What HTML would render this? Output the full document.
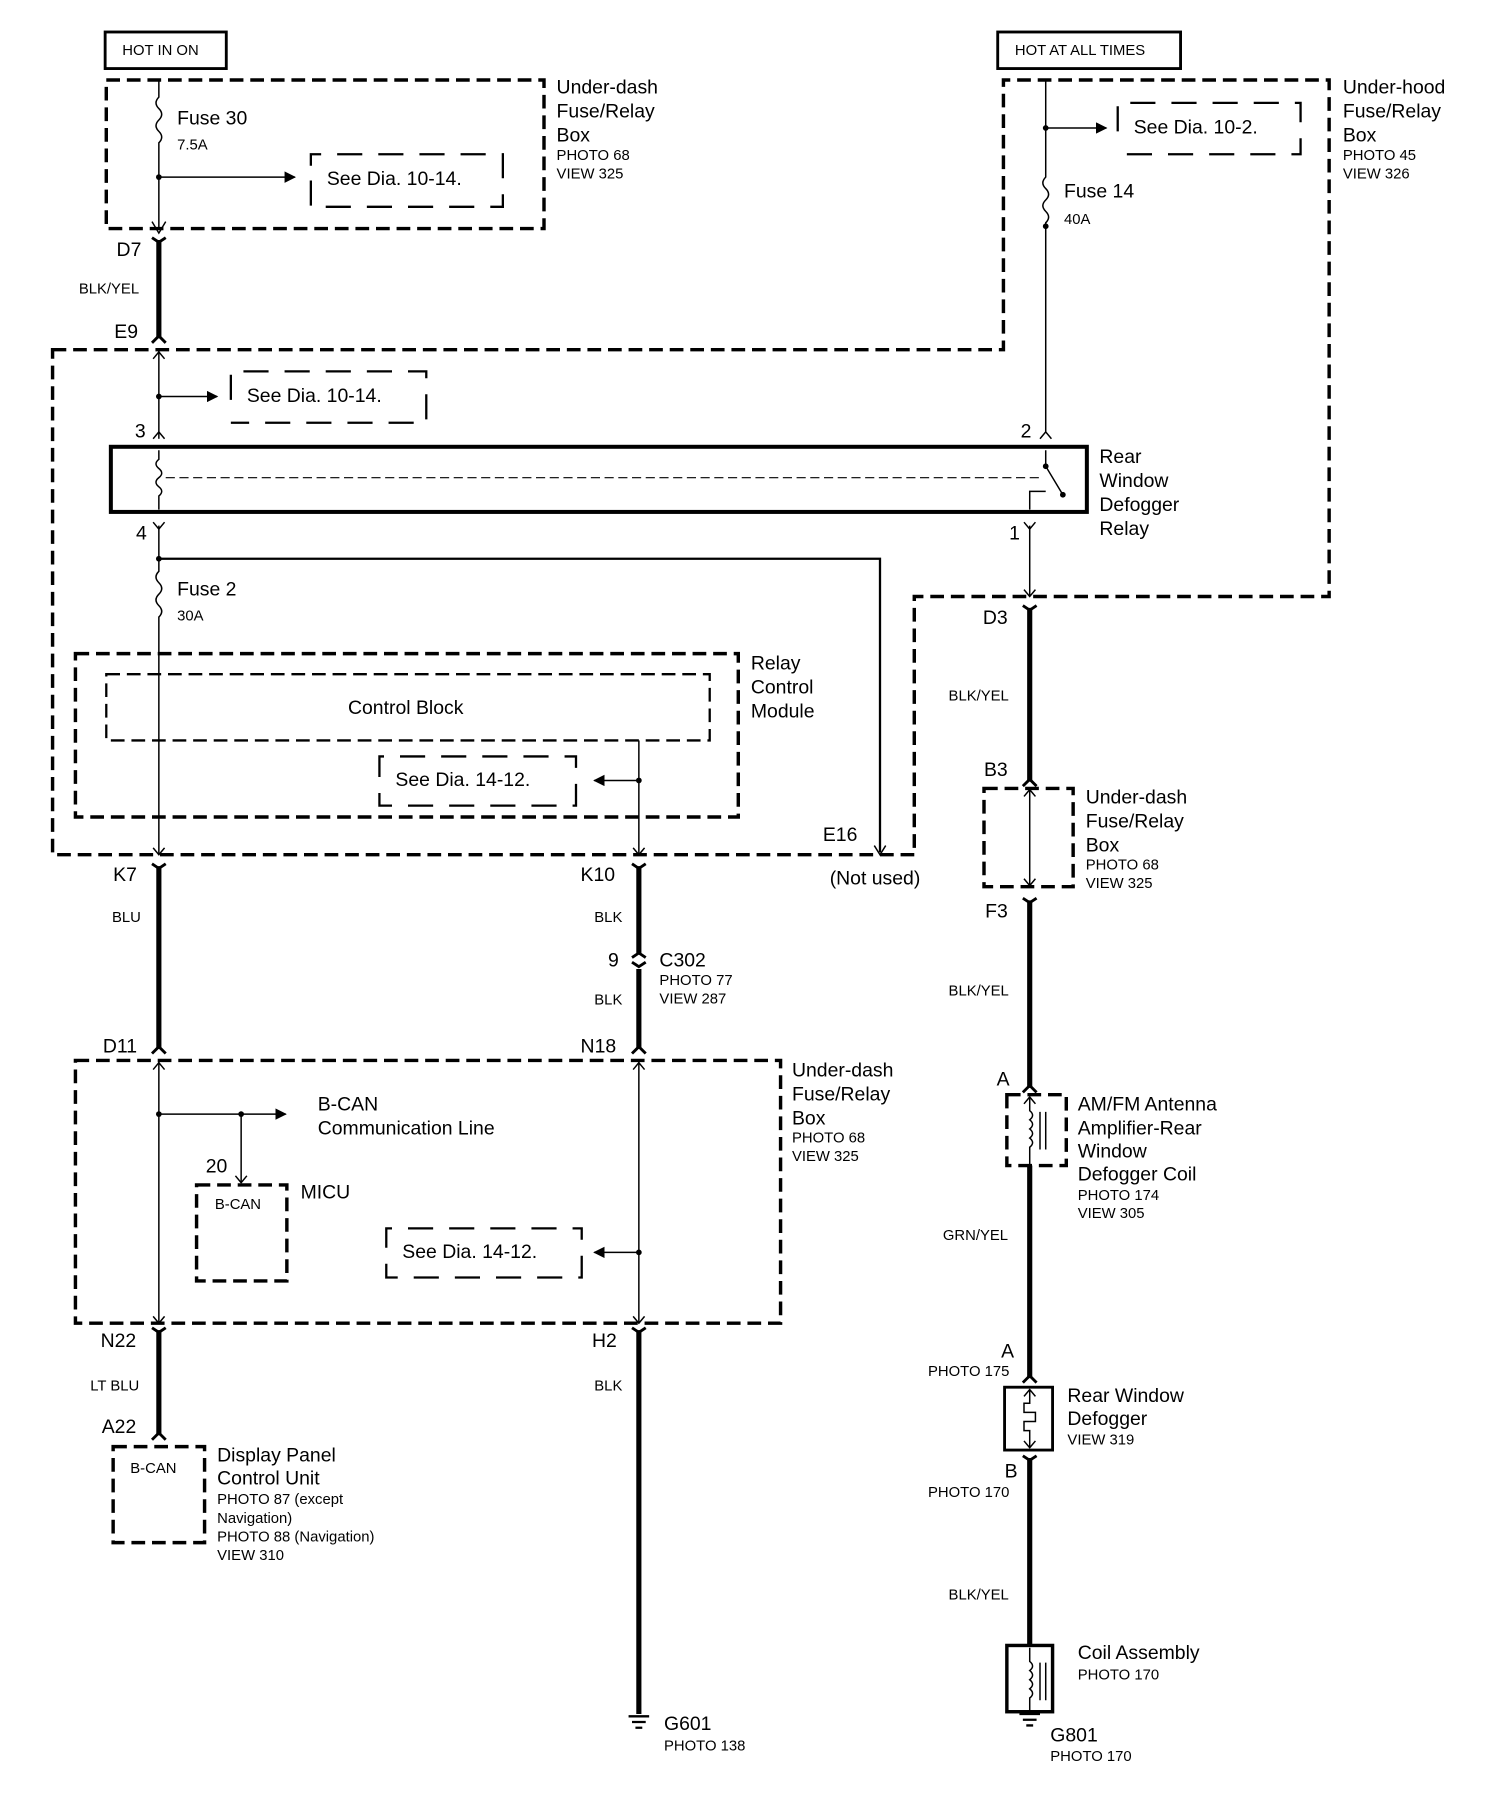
<!DOCTYPE html>
<html><head><meta charset="utf-8"><style>
html,body{margin:0;padding:0;background:#fff;}
svg{display:block;}
text{font-family:"Liberation Sans",sans-serif;fill:#000;}
.l{font-size:17px;}
.s{font-size:13px;}
.t{fill:none;stroke:#000;stroke-width:1.3;}
.w{fill:none;stroke:#000;stroke-width:4.5;}
.d{fill:none;stroke:#000;stroke-width:3;stroke-dasharray:12,6;}
.dt{fill:none;stroke:#000;stroke-width:2;stroke-dasharray:22,14;}
</style></head><body>
<svg width="1504" height="1794" viewBox="0 0 1316 1570" preserveAspectRatio="none" xmlns="http://www.w3.org/2000/svg">
<defs><marker id="ar" markerWidth="10" markerHeight="10" refX="9" refY="5" orient="auto" markerUnits="userSpaceOnUse"><path d="M0,0 L10,5 L0,10z"/></marker></defs>
<!-- HOT boxes -->
<rect x="92" y="28" width="106" height="32" class="t" style="stroke-width:2.5"/>
<text x="107" y="48" class="s">HOT IN ON</text>
<rect x="873" y="28" width="160" height="32" class="t" style="stroke-width:2.5"/>
<text x="888" y="48" class="s">HOT AT ALL TIMES</text>
<!-- under-dash top -->
<rect x="93" y="70" width="383" height="130" class="d"/>
<text x="487" y="82" class="l">Under-dash</text><text x="487" y="103" class="l">Fuse/Relay</text><text x="487" y="124" class="l">Box</text>
<text x="487" y="140" class="s">PHOTO 68</text><text x="487" y="156" class="s">VIEW 325</text>
<path d="M139,70 V85 q-5,5 0,10 q5,5 0,10 q-5,5 0,10 q5,5 0,10 V200" class="t"/>
<circle cx="139" cy="155" r="2.5"/><line x1="139" y1="155" x2="258" y2="155" class="t" marker-end="url(#ar)"/>
<path d="M272,158 V181 H440 V135 H272 V145" class="dt"/>
<text x="286" y="162" class="l">See Dia. 10-14.</text>
<text x="155" y="109" class="l">Fuse 30</text><text x="155" y="131" class="s">7.5A</text>
<path d="M133,194 L139,204 L145,194" class="t"/>
<text x="102" y="224" class="l">D7</text>
<path d="M133,208 L139,212 L145,208" class="t" style="stroke-width:2.5"/>
<line x1="139" y1="210" x2="139" y2="296" class="w"/>
<text x="69" y="257" class="s">BLK/YEL</text>
<text x="100" y="296" class="l">E9</text>
<path d="M133,300 L139,294 L145,300" class="t" style="stroke-width:2.5"/>
<!-- big dashed outline -->
<path d="M46,306 H878 V70 H1163 V522 H800 V748 H46 Z" class="d"/>
<!-- right top -->
<path d="M915,70 V155 q-5,5 0,10 q5,5 0,10 q-5,5 0,10 q5,5 0,10 V378" class="t"/>
<circle cx="915" cy="112" r="2.5"/><circle cx="915" cy="198" r="2.5"/>
<line x1="915" y1="112" x2="968" y2="112" class="t" marker-end="url(#ar)"/>
<path d="M978,115 V90 H1138 V135 H978" class="dt"/>
<text x="992" y="117" class="l">See Dia. 10-2.</text>
<text x="931" y="173" class="l">Fuse 14</text><text x="931" y="196" class="s">40A</text>
<text x="1175" y="82" class="l">Under-hood</text><text x="1175" y="103" class="l">Fuse/Relay</text><text x="1175" y="124" class="l">Box</text>
<text x="1175" y="140" class="s">PHOTO 45</text><text x="1175" y="156" class="s">VIEW 326</text>
<!-- left second -->
<line x1="139" y1="306" x2="139" y2="384" class="t"/>
<path d="M134,314 L139,308 L144,314 M134,384 L139,378 L144,384" class="t"/>
<circle cx="139" cy="347" r="2.5"/><line x1="139" y1="347" x2="190" y2="347" class="t" marker-end="url(#ar)"/>
<path d="M202,350 V325 H373 V370 H202" class="dt"/>
<text x="216" y="352" class="l">See Dia. 10-14.</text>
<text x="118" y="383" class="l">3</text><text x="893" y="383" class="l">2</text>
<path d="M910,384 L915,378 L920,384" class="t"/>
<!-- relay -->
<rect x="97" y="391" width="854" height="57" class="t" style="stroke-width:3.5"/>
<path d="M139,394 V402 q-5,4 0,8 q5,4 0,8 q-5,4 0,8 q5,4 0,8 V446" class="t"/>
<line x1="145" y1="418" x2="912" y2="418" class="t" style="stroke-width:1;stroke-dasharray:8,4"/>
<path d="M915,394 V408 L930,433 M901,446 V430 H915" class="t"/>
<circle cx="915" cy="408" r="2.5"/><circle cx="930" cy="433" r="2.5"/>
<text x="962" y="405" class="l">Rear</text><text x="962" y="426" class="l">Window</text><text x="962" y="447" class="l">Defogger</text><text x="962" y="468" class="l">Relay</text>
<text x="119" y="472" class="l">4</text><text x="883" y="472" class="l">1</text>
<path d="M134,457 L139,463 L144,457 M896,457 L901,463 L906,457" class="t"/>
<path d="M139,460 V500 q-5,5 0,10 q5,5 0,10 q-5,5 0,10 q5,5 0,10 V748" class="t"/>
<circle cx="139" cy="489" r="2.5"/>
<path d="M139,489 H770 V746" class="t" style="stroke-width:2"/>
<path d="M765,740 L770,748 L775,740" class="t"/>
<text x="155" y="521" class="l">Fuse 2</text><text x="155" y="543" class="s">30A</text>
<line x1="901" y1="460" x2="901" y2="522" class="t"/>
<path d="M896,516 L901,522 L906,516" class="t"/>
<!-- relay control module -->
<rect x="66" y="572" width="580" height="143" class="d"/>
<text x="657" y="586" class="l">Relay</text><text x="657" y="607" class="l">Control</text><text x="657" y="628" class="l">Module</text>
<rect x="93" y="590" width="528" height="58" class="d" style="stroke-width:2"/>
<text x="355" y="625" class="l" text-anchor="middle">Control Block</text>
<line x1="559" y1="648" x2="559" y2="748" class="t"/>
<circle cx="559" cy="683" r="2.5"/><line x1="559" y1="683" x2="520" y2="683" class="t" marker-end="url(#ar)"/>
<path d="M504,686 V705 H332 V662 H504 V672" class="dt"/>
<text x="346" y="688" class="l">See Dia. 14-12.</text>
<path d="M134,742 L139,748 L144,742 M554,742 L559,748 L564,742" class="t"/>
<text x="720" y="736" class="l">E16</text><text x="726" y="774" class="l">(Not used)</text>
<!-- middle section -->
<text x="99" y="771" class="l">K7</text><text x="508" y="771" class="l">K10</text>
<path d="M133,756 L139,760 L145,756 M553,756 L559,760 L565,756" class="t" style="stroke-width:2.5"/>
<line x1="139" y1="758" x2="139" y2="918" class="w"/>
<line x1="559" y1="758" x2="559" y2="834" class="w"/>
<line x1="559" y1="848" x2="559" y2="918" class="w"/>
<path d="M553,838 L559,834 L565,838 M553,842 L559,846 L565,842" class="t" style="stroke-width:2.5"/>
<text x="98" y="807" class="s">BLU</text><text x="520" y="807" class="s">BLK</text>
<text x="532" y="846" class="l">9</text><text x="577" y="846" class="l">C302</text>
<text x="577" y="862" class="s">PHOTO 77</text><text x="577" y="878" class="s">VIEW 287</text>
<text x="520" y="879" class="s">BLK</text>
<text x="90" y="921" class="l">D11</text><text x="508" y="921" class="l">N18</text>
<path d="M133,922 L139,916 L145,922 M553,922 L559,916 L565,922" class="t" style="stroke-width:2.5"/>
<rect x="66" y="928" width="617" height="230" class="d"/>
<text x="693" y="942" class="l">Under-dash</text><text x="693" y="963" class="l">Fuse/Relay</text><text x="693" y="984" class="l">Box</text>
<text x="693" y="1000" class="s">PHOTO 68</text><text x="693" y="1016" class="s">VIEW 325</text>
<line x1="139" y1="928" x2="139" y2="1158" class="t"/>
<line x1="559" y1="928" x2="559" y2="1158" class="t"/>
<path d="M134,936 L139,930 L144,936 M554,936 L559,930 L564,936 M134,1152 L139,1158 L144,1152 M554,1152 L559,1158 L564,1152" class="t"/>
<circle cx="139" cy="975" r="2.5"/><circle cx="211" cy="975" r="2.5"/>
<line x1="139" y1="975" x2="250" y2="975" class="t" marker-end="url(#ar)"/>
<line x1="211" y1="975" x2="211" y2="1035" class="t"/>
<path d="M206,1029 L211,1035 L216,1029" class="t"/>
<text x="278" y="972" class="l">B-CAN</text><text x="278" y="993" class="l">Communication Line</text>
<text x="180" y="1026" class="l">20</text>
<rect x="172" y="1037" width="79" height="84" class="d"/>
<text x="188" y="1058" class="s">B-CAN</text>
<text x="263" y="1049" class="l">MICU</text>
<circle cx="559" cy="1096" r="2.5"/><line x1="559" y1="1096" x2="520" y2="1096" class="t" marker-end="url(#ar)"/>
<path d="M509,1099 V1118 H338 V1075 H509 V1085" class="dt"/>
<text x="352" y="1101" class="l">See Dia. 14-12.</text>
<text x="88" y="1179" class="l">N22</text><text x="518" y="1179" class="l">H2</text>
<path d="M133,1162 L139,1166 L145,1162 M553,1162 L559,1166 L565,1162" class="t" style="stroke-width:2.5"/>
<line x1="139" y1="1164" x2="139" y2="1256" class="w"/>
<line x1="559" y1="1164" x2="559" y2="1500" class="w"/>
<text x="79" y="1217" class="s">LT BLU</text><text x="520" y="1217" class="s">BLK</text>
<text x="89" y="1254" class="l">A22</text>
<path d="M133,1260 L139,1254 L145,1260" class="t" style="stroke-width:2.5"/>
<rect x="99" y="1266" width="80" height="84" class="d"/>
<text x="114" y="1289" class="s">B-CAN</text>
<text x="190" y="1279" class="l">Display Panel</text><text x="190" y="1299" class="l">Control Unit</text>
<text x="190" y="1316" class="s">PHOTO 87 (except</text><text x="190" y="1333" class="s">Navigation)</text>
<text x="190" y="1349" class="s">PHOTO 88 (Navigation)</text><text x="190" y="1365" class="s">VIEW 310</text>
<path d="M550,1502 H568 M553,1507 H565 M556,1512 H562" class="t" style="stroke-width:2"/>
<text x="581" y="1514" class="l">G601</text><text x="581" y="1532" class="s">PHOTO 138</text>
<!-- right chain -->
<text x="860" y="546" class="l">D3</text>
<path d="M895,530 L901,534 L907,530" class="t" style="stroke-width:2.5"/>
<line x1="901" y1="532" x2="901" y2="684" class="w"/>
<text x="830" y="613" class="s">BLK/YEL</text>
<text x="861" y="679" class="l">B3</text>
<path d="M895,688 L901,682 L907,688" class="t" style="stroke-width:2.5"/>
<rect x="861" y="690" width="78" height="86" class="d"/>
<line x1="901" y1="690" x2="901" y2="776" class="t"/>
<path d="M896,697 L901,691 L906,697 M896,769 L901,775 L906,769" class="t"/>
<text x="950" y="703" class="l">Under-dash</text><text x="950" y="724" class="l">Fuse/Relay</text><text x="950" y="745" class="l">Box</text>
<text x="950" y="761" class="s">PHOTO 68</text><text x="950" y="777" class="s">VIEW 325</text>
<text x="862" y="803" class="l">F3</text>
<path d="M895,786 L901,790 L907,786" class="t" style="stroke-width:2.5"/>
<line x1="901" y1="788" x2="901" y2="952" class="w"/>
<text x="830" y="871" class="s">BLK/YEL</text>
<text x="872" y="950" class="l">A</text>
<path d="M895,956 L901,950 L907,956" class="t" style="stroke-width:2.5"/>
<rect x="881" y="958" width="52" height="62" class="d"/>
<path d="M901,960 V972 q5,4 0,8 q5,4 0,8 q5,4 0,8 q5,4 0,8 V1020 M910,973 V1006 M915,973 V1006" class="t"/>
<path d="M896,966 L901,960 L906,966" class="t"/>
<text x="943" y="972" class="l">AM/FM Antenna</text><text x="943" y="993" class="l">Amplifier-Rear</text><text x="943" y="1013" class="l">Window</text><text x="943" y="1033" class="l">Defogger Coil</text>
<text x="943" y="1050" class="s">PHOTO 174</text><text x="943" y="1066" class="s">VIEW 305</text>
<line x1="901" y1="1020" x2="901" y2="1206" class="w"/>
<text x="825" y="1085" class="s">GRN/YEL</text>
<text x="876" y="1188" class="l">A</text><text x="812" y="1204" class="s">PHOTO 175</text>
<path d="M895,1210 L901,1204 L907,1210" class="t" style="stroke-width:2.5"/>
<rect x="879" y="1214" width="42" height="55" class="t" style="stroke-width:2.5"/>
<path d="M901,1216 V1228 H896 V1236 H906 V1244 H896 V1252 H901 V1267" class="t"/>
<path d="M896,1222 L901,1216 L906,1222 M896,1261 L901,1267 L906,1261" class="t"/>
<text x="934" y="1227" class="l">Rear Window</text><text x="934" y="1247" class="l">Defogger</text><text x="934" y="1264" class="s">VIEW 319</text>
<text x="879" y="1293" class="l">B</text><text x="812" y="1310" class="s">PHOTO 170</text>
<path d="M895,1274 L901,1278 L907,1274" class="t" style="stroke-width:2.5"/>
<line x1="901" y1="1276" x2="901" y2="1440" class="w"/>
<text x="830" y="1400" class="s">BLK/YEL</text>
<rect x="881" y="1440" width="40" height="58" class="t" style="stroke-width:3"/>
<path d="M901,1442 V1454 q5,4 0,8 q5,4 0,8 q5,4 0,8 q5,4 0,8 V1498 M910,1455 V1488 M915,1455 V1488" class="t"/>
<path d="M892,1500 H910 M895,1505 H907 M898,1510 H904" class="t" style="stroke-width:2"/>
<text x="943" y="1452" class="l">Coil Assembly</text><text x="943" y="1470" class="s">PHOTO 170</text>
<text x="919" y="1524" class="l">G801</text><text x="919" y="1541" class="s">PHOTO 170</text>
</svg>
</body></html>
